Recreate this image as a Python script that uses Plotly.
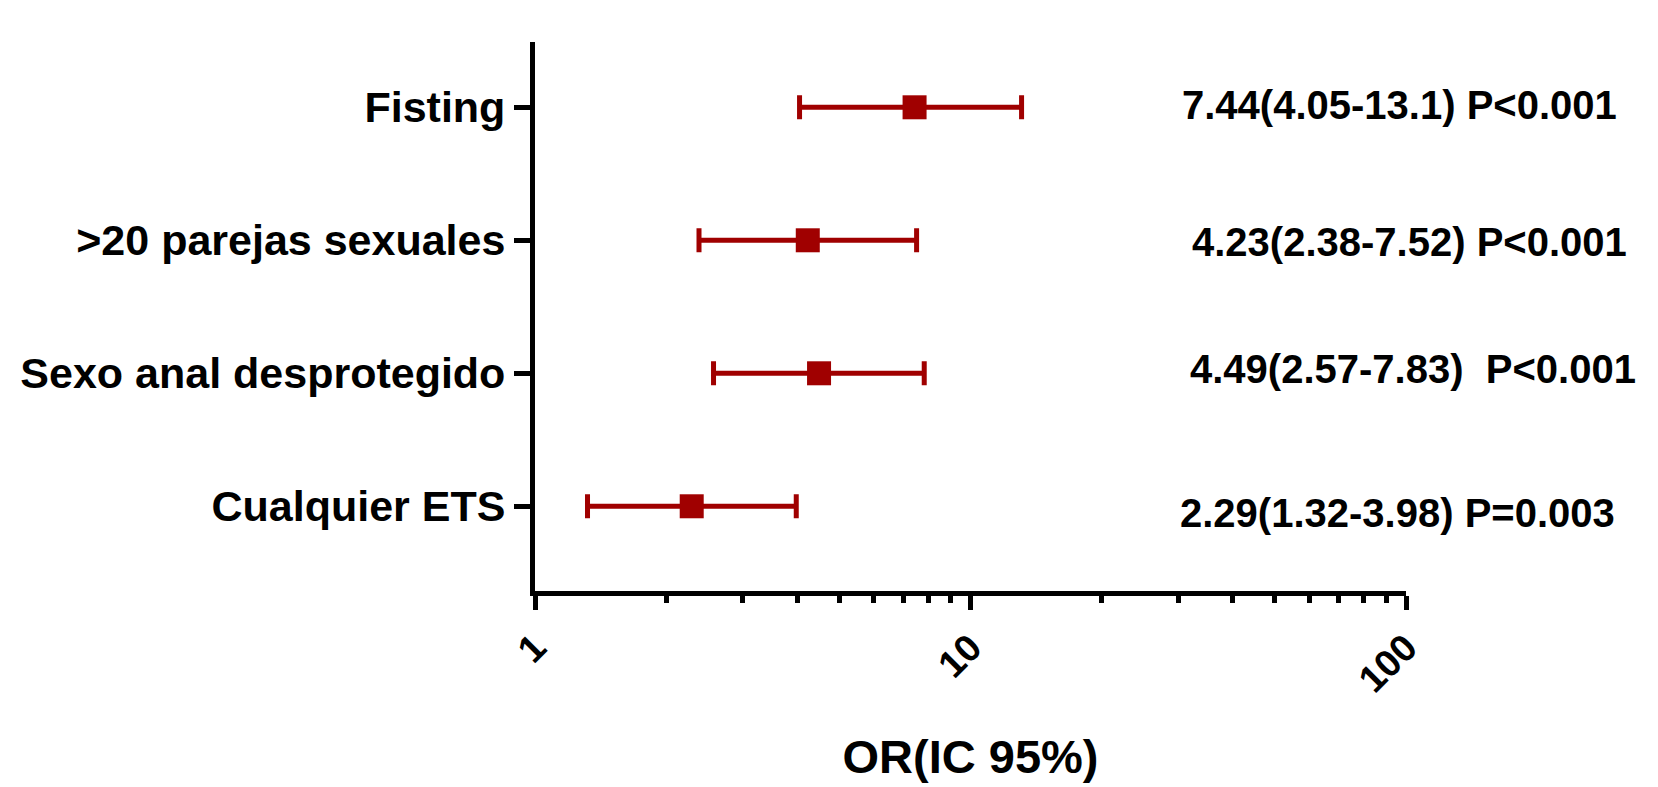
import plotly.graph_objects as go

# ---- data ----
categories = ["Fisting", ">20 parejas sexuales", "Sexo anal desprotegido", "Cualquier ETS"]
odds_ratio = [7.44, 4.23, 4.49, 2.29]
ci_low = [4.05, 2.38, 2.57, 1.32]
ci_high = [13.1, 7.52, 7.83, 3.98]
p_text = ["P&lt;0.001", "P&lt;0.001", "\u00a0P&lt;0.001", "P=0.003"]
x_ticks = [1, 10, 100]
x_minor = [2, 3, 4, 5, 6, 7, 8, 9, 20, 30, 40, 50, 60, 70, 80, 90]

RED = "#A00000"
FONT = "Liberation Sans, Arial, sans-serif"

err_plus = [h - o for h, o in zip(ci_high, odds_ratio)]
err_minus = [o - l for o, l in zip(odds_ratio, ci_low)]

fig = go.Figure()
fig.add_trace(go.Scatter(
    x=odds_ratio, y=categories, mode="markers",
    marker=dict(symbol="square", size=24, color=RED, line=dict(width=0)),
    error_x=dict(type="data", symmetric=False, array=err_plus, arrayminus=err_minus,
                 color=RED, thickness=5, width=12),
    showlegend=False, hoverinfo="skip",
))

# annotation text per row
ann_x = [0.741, 0.752, 0.750, 0.738]
ann_shift = [2, -2, 4, -7]
for cat, o, lo, hi, p, ax_, sh in zip(categories, odds_ratio, ci_low, ci_high, p_text, ann_x, ann_shift):
    hi_txt = f"{hi:g}" if cat == "Fisting" else f"{hi:.2f}"
    fig.add_annotation(
        x=ax_, xref="paper", y=cat, yref="y", yshift=sh,
        text=f"{o:.2f}({lo:.2f}-{hi_txt}) {p}",
        showarrow=False, xanchor="left", yanchor="middle",
        font=dict(family=FONT, size=40, color="black", weight="bold"),
    )

fig.update_layout(
    width=1658, height=787,
    margin=dict(l=535, r=252, t=42, b=190),
    paper_bgcolor="white", plot_bgcolor="white",
    font=dict(family=FONT, color="black", weight="bold"),
    xaxis=dict(
        type="log", range=[0, 2],
        tickvals=x_ticks, ticktext=[str(v) for v in x_ticks],
        tickangle=-45, tickfont=dict(size=38, family=FONT, weight="bold"),
        ticks="outside", ticklen=14, tickwidth=5, tickcolor="black",
        showline=True, linewidth=5, linecolor="black",
        showgrid=False, zeroline=False,
        minor=dict(tickmode="array", tickvals=x_minor, ticks="outside",
                   ticklen=7, tickwidth=5, tickcolor="black", showgrid=False),
        title=dict(text="OR(IC 95%)", font=dict(size=47, family=FONT, weight="bold"), standoff=42),
    ),
    yaxis=dict(
        type="category", categoryorder="array", categoryarray=categories[::-1],
        range=[-0.637, 3.491],
        tickfont=dict(size=43, family=FONT, weight="bold"),
        ticks="outside", ticklen=16, tickwidth=5, tickcolor="black",
        showline=True, linewidth=5, linecolor="black",
        showgrid=False, zeroline=False,
    ),
)

fig.write_html("out.html")
